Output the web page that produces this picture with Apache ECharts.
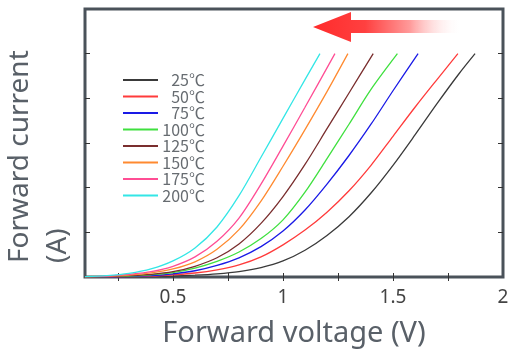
<!DOCTYPE html>
<html>
<head>
<meta charset="utf-8">
<script src="https://cdn.jsdelivr.net/npm/echarts@6/dist/echarts.min.js"></script>
<style>
  html, body { margin: 0; padding: 0; background: #fff; }
  #chart { width: 508px; height: 355px; }
</style>
</head>
<body>
<div id="chart"></div>
<script>
// forward current (A) vs forward voltage (V), one array per temperature
const t25 = [[0.1, 0], [0.4, 0.01], [0.5, 0.02], [0.6, 0.04], [0.7, 0.07], [0.8, 0.12], [0.9, 0.21], [1.0, 0.36], [1.1, 0.6], [1.2, 0.93], [1.3, 1.35], [1.4, 1.88], [1.5, 2.5], [1.6, 3.18], [1.7, 3.88], [1.8, 4.55], [1.873, 5]]
const t50 = [[0.1, 0], [0.3, 0.01], [0.4, 0.02], [0.5, 0.05], [0.6, 0.09], [0.7, 0.16], [0.8, 0.27], [0.9, 0.45], [1.0, 0.72], [1.1, 1.05], [1.2, 1.45], [1.3, 1.93], [1.4, 2.5], [1.5, 3.15], [1.6, 3.8], [1.7, 4.42], [1.795, 5]]
const t75 = [[0.1, 0], [0.3, 0.01], [0.4, 0.03], [0.5, 0.07], [0.6, 0.14], [0.7, 0.26], [0.8, 0.43], [0.9, 0.68], [1.0, 1.03], [1.1, 1.5], [1.2, 2.08], [1.3, 2.72], [1.4, 3.42], [1.5, 4.17], [1.614, 5]]
const t100 = [[0.1, 0], [0.2, 0.01], [0.3, 0.02], [0.4, 0.05], [0.5, 0.1], [0.6, 0.2], [0.7, 0.35], [0.8, 0.56], [0.9, 0.86], [1.0, 1.28], [1.1, 1.9], [1.2, 2.65], [1.3, 3.42], [1.4, 4.2], [1.52, 5]]
const t125 = [[0.1, 0], [0.2, 0.01], [0.3, 0.03], [0.4, 0.06], [0.5, 0.12], [0.6, 0.24], [0.7, 0.43], [0.8, 0.74], [0.9, 1.2], [1.0, 1.8], [1.1, 2.52], [1.2, 3.32], [1.3, 4.12], [1.41, 5]]
const t150 = [[0.1, 0.01], [0.2, 0.02], [0.3, 0.04], [0.4, 0.09], [0.5, 0.18], [0.6, 0.34], [0.7, 0.62], [0.8, 1.06], [0.9, 1.7], [1.0, 2.48], [1.1, 3.3], [1.2, 4.15], [1.295, 5]]
const t175 = [[0.1, 0.01], [0.2, 0.02], [0.3, 0.06], [0.4, 0.12], [0.5, 0.24], [0.6, 0.45], [0.7, 0.8], [0.8, 1.32], [0.9, 2.08], [1.0, 2.93], [1.1, 3.8], [1.236, 5]]
const t200 = [[0.1, 0.01], [0.2, 0.03], [0.3, 0.08], [0.4, 0.18], [0.5, 0.36], [0.6, 0.65], [0.7, 1.12], [0.8, 1.82], [0.9, 2.68], [1.0, 3.55], [1.1, 4.42], [1.168, 5]]

const names = ['25℃', '50℃', '75℃', '100℃', '125℃', '150℃', '175℃', '200℃']
const curves = [t25, t50, t75, t100, t125, t150, t175, t200]
const colors = ['#3a3a3a', '#ff3b3b', '#1a1ae6', '#3fe03f', '#7a2e2e', '#ff8a30', '#ff4d94', '#33e6e6']

const xLabels = [0.5, 1, 1.5, 2]
const xTicks = [0.25, 0.5, 0.75, 1, 1.25, 1.5, 1.75]
const yTicks = [1, 2, 3, 4, 5]

const frame = '#4a525a'
const titleColor = '#596068'

let myChart = echarts.init(document.getElementById('chart'))
myChart.setOption({
  animation: false,
  color: colors,
  grid: {
    left: 85,
    right: 5,
    top: 9,
    bottom: 78,
    show: true,
    borderColor: frame,
    borderWidth: 3,
    outerBoundsMode: 'none'
  },
  legend: {
    orient: 'vertical',
    left: 118,
    top: 67,
    itemWidth: 35,
    itemHeight: 2,
    itemGap: 0.5,
    icon: 'rect',
    selectedMode: false,
    data: names,
    formatter: (name) => '{a|' + name + '}',
    textStyle: {
      color: '#676c71',
      fontSize: 16,
      lineHeight: 16,
      fontFamily: 'Noto Sans CJK JP',
      rich: {
        a: { width: 42, align: 'right', fontSize: 16, lineHeight: 16, color: '#676c71', fontFamily: 'Noto Sans CJK JP' }
      }
    }
  },
  xAxis: [
    {
      type: 'value',
      min: 0.1,
      max: 2,
      splitLine: { show: false },
      axisLine: { show: false },
      axisTick: {
        show: true,
        inside: true,
        length: 4,
        customValues: xTicks,
        lineStyle: { color: '#333', width: 1 }
      },
      axisLabel: {
        customValues: xLabels,
        margin: 11,
        color: '#444',
        fontSize: 19,
        fontFamily: 'Noto Sans'
      },
      name: 'Forward voltage (V)',
      nameLocation: 'middle',
      nameGap: 42,
      nameTextStyle: {
        color: titleColor,
        fontSize: 29,
        fontFamily: 'Noto Sans'
      }
    },
    {
      type: 'value',
      position: 'top',
      min: 0.1,
      max: 2,
      splitLine: { show: false },
      axisLine: { show: false },
      axisLabel: { show: false },
      axisTick: {
        show: true,
        inside: true,
        length: 4,
        customValues: xTicks,
        lineStyle: { color: '#333', width: 1 }
      }
    }
  ],
  yAxis: [
    {
      type: 'value',
      min: 0,
      max: 6,
      splitLine: { show: false },
      axisLine: { show: false },
      axisLabel: { show: false },
      axisTick: {
        show: true,
        inside: true,
        length: 5,
        customValues: yTicks,
        lineStyle: { color: '#333', width: 1 }
      }
    },
    {
      type: 'value',
      position: 'right',
      min: 0,
      max: 6,
      splitLine: { show: false },
      axisLine: { show: false },
      axisLabel: { show: false },
      axisTick: {
        show: true,
        inside: true,
        length: 5,
        customValues: yTicks,
        lineStyle: { color: '#333', width: 1 }
      }
    }
  ],
  series: curves.map((d, i) => ({
    name: names[i],
    type: 'line',
    data: d,
    showSymbol: false,
    smooth: 0.3,
    lineStyle: { width: 1.3, color: colors[i] },
    z: 2 + i
  })),
  graphic: [
    {
      type: 'text',
      x: 6, y: 263,
      rotation: Math.PI / 2,
      style: {
        text: 'Forward current',
        fill: titleColor,
        fontSize: 28,
        fontFamily: 'Noto Sans',
        textAlign: 'left',
        textVerticalAlign: 'top'
      }
    },
    {
      type: 'text',
      x: 44, y: 263,
      rotation: Math.PI / 2,
      style: {
        text: '(A)',
        fill: titleColor,
        fontSize: 28,
        fontFamily: 'Noto Sans',
        textAlign: 'left',
        textVerticalAlign: 'top'
      }
    },
    {
      type: 'polygon',
      shape: {
        points: [[313, 27], [351, 12], [351, 20], [462, 20], [462, 33], [351, 33], [351, 42]]
      },
      style: {
        fill: new echarts.graphic.LinearGradient(0, 0, 1, 0, [
          { offset: 0, color: '#ff2b2b' },
          { offset: 0.35, color: '#ff4040' },
          { offset: 0.65, color: '#ff9a9a' },
          { offset: 1, color: 'rgba(255,255,255,0)' }
        ])
      },
      z: 10
    }
  ]
})
</script>
</body>
</html>
